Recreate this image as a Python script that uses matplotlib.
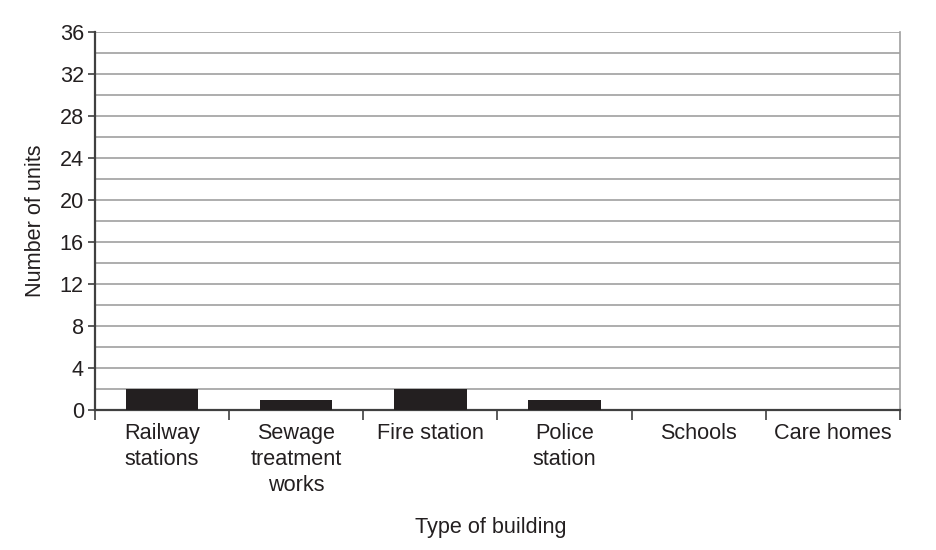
import matplotlib.pyplot as plt
import numpy as np

plt.rcParams['font.family'] = ['Liberation Sans', 'DejaVu Sans']

# Dados
categories = ['Railway\nstations', 'Sewage\ntreatment\nworks', 'Fire station',
              'Police\nstation', 'Schools', 'Care homes']
units = [2, 1, 2, 1, 0, 0]
y_ticks = [0, 4, 8, 12, 16, 20, 24, 28, 32, 36]

fs = 15.6

fig = plt.figure(figsize=(9.36, 5.5), dpi=100)
ax = fig.add_axes([0.1015, 0.2545, 0.86, 0.6873])

x = np.arange(len(categories))
ax.bar(x, units, width=0.54, color='#231f20', zorder=3)

ax.set_xlim(-0.5, len(categories) - 0.5)
ax.set_ylim(0, 36)

# Grade a cada 2 unidades
ax.set_yticks(y_ticks)
ax.set_yticks(np.arange(0, 37, 2), minor=True)
ax.grid(axis='y', which='both', color='#a0a0a0', linewidth=1.2, zorder=0)
ax.tick_params(axis='y', which='minor', length=0)
ax.tick_params(axis='y', which='major', length=5, width=1.2, color='#404040',
               labelsize=fs, labelcolor='#231f20', pad=3)

# Ticks do eixo x nas divisas das categorias
ax.set_xticks(np.arange(-0.5, len(categories)), minor=True)
ax.set_xticks(x)
ax.set_xticklabels(categories, fontsize=fs, color='#231f20', linespacing=1.33)
ax.tick_params(axis='x', which='major', length=0, pad=9)
ax.tick_params(axis='x', which='minor', length=7, width=1.2, color='#404040')

for s in ['left', 'bottom']:
    ax.spines[s].set_color('#404040')
    ax.spines[s].set_linewidth(1.6)
ax.spines['top'].set_visible(False)
ax.spines['right'].set_color('#a0a0a0')
ax.spines['right'].set_linewidth(1.2)

ax.set_ylabel('Number of units', fontsize=fs, color='#231f20', labelpad=10)
fig.text(0.524, 0.03, 'Type of building', fontsize=fs, color='#231f20', ha='center')

plt.savefig('out.png', dpi=100)
